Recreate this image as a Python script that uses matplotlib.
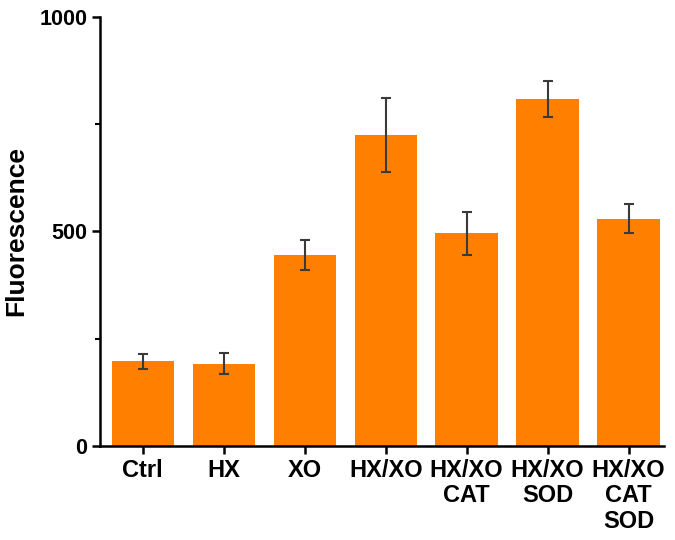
import numpy as np
import matplotlib
matplotlib.use("Agg")
import matplotlib.pyplot as plt
from matplotlib.ticker import MultipleLocator

plt.rcParams['font.family'] = ['Liberation Sans', 'DejaVu Sans']
plt.rcParams['font.weight'] = 'bold'

labels = ["Ctrl", "HX", "XO", "HX/XO", "HX/XO\nCAT", "HX/XO\nSOD", "HX/XO\nCAT\nSOD"]
values = [197, 192, 445, 725, 496, 809, 530]
errors = [18, 25, 36, 86, 50, 42, 34]

fig = plt.figure(figsize=(6.75, 5.4), dpi=100)
ax = fig.add_axes([0.148, 0.174, 0.836, 0.795])

x = np.arange(len(labels))
ax.bar(x, values, width=0.77, color='#FF7F00', edgecolor='none', zorder=2)
ax.errorbar(x, values, yerr=errors, fmt='none', ecolor='#3a3a3a',
            elinewidth=1.5, capsize=3.5, capthick=1.5, zorder=3)

ax.set_xlim(-0.53, 6.44)
ax.set_ylim(0, 1000)
ax.set_yticks([0, 500, 1000])
ax.yaxis.set_minor_locator(MultipleLocator(250))
ax.set_xticks(x)
ax.set_xticklabels(labels, fontsize=17, fontweight='bold', linespacing=1.15)
for t in ax.get_yticklabels():
    t.set_fontsize(15.5)
    t.set_fontweight('bold')

ax.set_ylabel("Fluorescence", fontsize=19, fontweight='bold', labelpad=8)

for s in ['top', 'right']:
    ax.spines[s].set_visible(False)
for s in ['left', 'bottom']:
    ax.spines[s].set_linewidth(1.8)
ax.tick_params(axis='both', which='major', direction='out', length=6, width=1.8, pad=3)
ax.tick_params(axis='y', which='minor', direction='out', length=3.5, width=1.5)

fig.savefig("out.png", dpi=100)
